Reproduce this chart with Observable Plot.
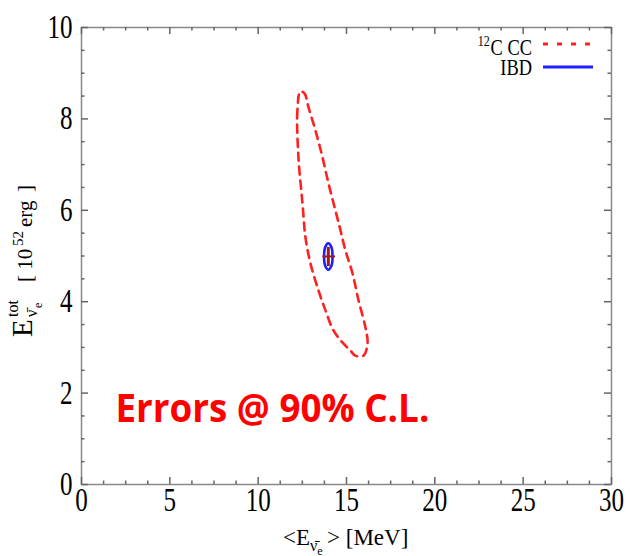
<!DOCTYPE html>
<html><head><meta charset="utf-8">
<script src="https://cdn.jsdelivr.net/npm/d3@7"></script>
<script src="https://cdn.jsdelivr.net/npm/@observablehq/plot@0.6"></script>
<style>body{margin:0;background:#fff} #chart svg{display:block}</style>
</head><body><div id="chart"></div>
<script>
// tick values
const xTicks = [0, 5, 10, 15, 20, 25, 30];
const yTicks = [0, 2, 4, 6, 8, 10];
const xMinor = [1.25, 2.5, 3.75, 6.25, 7.5, 8.75, 11.25, 12.5, 13.75, 16.25, 17.5, 18.75, 21.25, 22.5, 23.75, 26.25, 27.5, 28.75];
const yMinor = [0.5, 1, 1.5, 2.5, 3, 3.5, 4.5, 5, 5.5, 6.5, 7, 7.5, 8.5, 9, 9.5];

// 12C CC 90% C.L. contour (mean energy [MeV], total energy [1e52 erg])
const ccE   = [12.39, 12.22, 12.28, 12.51, 12.68, 12.96, 13.41, 13.81, 14.26, 14.77, 15.22, 15.50, 15.96, 16.19, 16.07, 15.68, 15.34, 14.94, 14.66, 14.37, 13.98, 13.64, 13.24, 12.85, 12.62];
const ccTot = [8.60, 8.18, 7.16, 6.15, 5.40, 4.84, 4.25, 3.81, 3.37, 3.11, 2.93, 2.82, 2.82, 3.09, 3.44, 4.03, 4.62, 5.12, 5.56, 6.00, 6.59, 7.16, 7.75, 8.25, 8.56];

// IBD 90% C.L. contour
const ibdE   = [13.97, 14.14, 14.21, 14.14, 13.97, 13.80, 13.73, 13.80];
const ibdTot = [5.28, 5.20, 4.99, 4.78, 4.70, 4.78, 4.99, 5.20];

// best fit marker (cross)
const bestE = 13.97, bestTot = 4.99;
const crossE = [13.64, 14.35];
const crossTot = [4.78, 5.20];

const seriesNames = ["12C CC", "IBD"];
const note = ["Errors @ 90% C.L."];

const cc = ccE.map((e, i) => ({e, t: ccTot[i]}));
const ibd = ibdE.map((e, i) => ({e, t: ibdTot[i]}));
const cross = [
  {x1: crossE[0], x2: crossE[1], y1: bestTot, y2: bestTot, w: 2},
  {x1: bestE, x2: bestE, y1: crossTot[0], y2: crossTot[1], w: 3}
];

const serif = "Liberation Serif, Times New Roman, serif";
const axisGray = "#666";
const W = 632, H = 556, ML = 81, MR = 21, MT = 27, MB = 72;
const FW = W - ML - MR, FH = H - MT - MB;
const major = 7, minor = 3.5;
const tw = 1.5;

const plot = Plot.plot({
  width: W, height: H,
  marginLeft: ML, marginRight: MR, marginTop: MT, marginBottom: MB,
  x: {domain: [0, 30]},
  y: {domain: [0, 10]},
  style: {background: "white", color: "black"},
  marks: [
    // tick labels
    Plot.axisX(xTicks, {anchor: "bottom", tickSize: 0, tickPadding: 3, fontSize: 33, fontFamily: serif, fill: "black", label: null}),
    Plot.axisY(yTicks, {anchor: "left", tickSize: 0, tickPadding: 9, fontSize: 33, fontFamily: serif, fill: "black", label: null}),
    Plot.frame({stroke: "#888", strokeWidth: 1.5}),
    // ticks pointing inward on all four sides
    Plot.ruleX(xTicks, {x: d => d, insetTop: FH - major, stroke: axisGray, strokeWidth: tw}),
    Plot.ruleX(xMinor, {x: d => d, insetTop: FH - minor, stroke: axisGray, strokeWidth: tw}),
    Plot.ruleX(xTicks, {x: d => d, insetBottom: FH - major, stroke: axisGray, strokeWidth: tw}),
    Plot.ruleX(xMinor, {x: d => d, insetBottom: FH - minor, stroke: axisGray, strokeWidth: tw}),
    Plot.ruleY(yTicks, {y: d => d, insetRight: FW - major, stroke: axisGray, strokeWidth: tw}),
    Plot.ruleY(yMinor, {y: d => d, insetRight: FW - minor, stroke: axisGray, strokeWidth: tw}),
    Plot.ruleY(yTicks, {y: d => d, insetLeft: FW - major, stroke: axisGray, strokeWidth: tw}),
    Plot.ruleY(yMinor, {y: d => d, insetLeft: FW - minor, stroke: axisGray, strokeWidth: tw}),
    // contours
    Plot.line(cc, {x: "e", y: "t", curve: "catmull-rom-closed", stroke: "#ff2020", strokeWidth: 2.6, strokeDasharray: "8,6"}),
    Plot.line(ibd, {x: "e", y: "t", curve: "catmull-rom-closed", stroke: "#1f1fff", strokeWidth: 2.6}),
    Plot.link(cross, {x1: "x1", x2: "x2", y1: "y1", y2: "y2", stroke: "#a01818", strokeWidth: "w"}),
    // annotation
    Plot.text(note, {frameAnchor: "bottom-left", dx: 34, dy: -75, text: d => d, fill: "#ff0000", fontSize: 40, fontWeight: 700, fontFamily: "Open Sans, sans-serif", textAnchor: "start", lineAnchor: "middle"})
  ]
});

document.getElementById("chart").appendChild(plot);
const svg = d3.select(plot);

// narrow the serif tick labels like the original
function squeeze(sel, k) {
  sel.each(function() {
    const t = d3.select(this);
    let tr = t.attr("transform");
    if (!tr) {
      const x = +t.attr("x") || 0, y = +t.attr("y") || 0;
      t.attr("x", null).attr("y", null);
      tr = `translate(${x},${y})`;
    }
    t.attr("transform", tr + ` scale(${k},1)`);
  });
}
squeeze(svg.selectAll("g[aria-label='x-axis tick label'] text, g[aria-label='y-axis tick label'] text"), 0.76);
squeeze(svg.selectAll("g[aria-label='text'] text"), 0.92);

// legend (top right, inside frame)
const lg = svg.append("g").attr("font-family", serif).attr("fill", "black").attr("text-anchor", "end");
const t1 = lg.append("text").attr("x", 532).attr("y", 55).attr("font-size", 23)
  .attr("transform", "translate(532,0) scale(0.8,1) translate(-532,0)");
t1.append("tspan").attr("font-size", 15).attr("dy", -9).text(seriesNames[0].slice(0, 2));
t1.append("tspan").attr("dy", 9).attr("dx", 1).text(seriesNames[0].slice(2));
lg.append("text").attr("x", 532).attr("y", 75).attr("font-size", 23)
  .attr("transform", "translate(532,0) scale(0.8,1) translate(-532,0)").text(seriesNames[1]);
lg.append("line").attr("x1", 543).attr("x2", 591).attr("y1", 44).attr("y2", 44)
  .attr("stroke", "#ff2020").attr("stroke-width", 3).attr("stroke-dasharray", "5,9");
lg.append("line").attr("x1", 543).attr("x2", 593).attr("y1", 67).attr("y2", 67)
  .attr("stroke", "#1f1fff").attr("stroke-width", 3);

// x axis label  <E_ν̄e> [MeV]
const xl = svg.append("text").attr("font-family", serif).attr("font-size", 23).attr("fill", "black")
  .attr("text-anchor", "start").attr("x", 283).attr("y", 545);
xl.append("tspan").text("<E");
xl.append("tspan").attr("font-size", 16).attr("dy", 6).text("\u03BD\u0304");
xl.append("tspan").attr("font-size", 12).attr("dy", 4).text("e");
xl.append("tspan").attr("dy", -10).attr("x", 327).text("> [MeV]");

// y axis label  E^tot_ν̄e [10^52 erg]
const yl = svg.append("g").attr("transform", "translate(32,337) rotate(-90)")
  .attr("font-family", serif).attr("fill", "black").attr("text-anchor", "start");
yl.append("text").attr("x", 0).attr("y", 0).attr("font-size", 29).text("E");
yl.append("text").attr("x", 20).attr("y", -14).attr("font-size", 16).text("tot");
yl.append("text").attr("x", 20).attr("y", 5).attr("font-size", 16).text("\u03BD\u0304");
yl.append("text").attr("x", 29).attr("y", 10).attr("font-size", 12).text("e");
yl.append("text").attr("x", 55).attr("y", 0).attr("font-size", 21).text("[ 10");
yl.append("text").attr("x", 91).attr("y", -9).attr("font-size", 15).text("52");
yl.append("text").attr("x", 110).attr("y", 0).attr("font-size", 21).text("erg");
yl.append("text").attr("x", 145).attr("y", 0).attr("font-size", 21).text("]");
</script>
</body></html>
